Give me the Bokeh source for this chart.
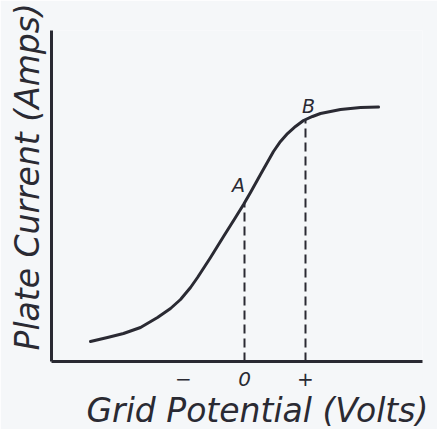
from bokeh.plotting import figure
from bokeh.models import Label, FixedTicker, Title
from bokeh.embed import file_html
from bokeh.resources import INLINE

# Grid potential (arbitrary units: 0 = zero bias, +1 = point B), plate current (arbitrary units)
grid_potential = [-2.525, -2.246, -1.984, -1.705, -1.426, -1.213, -1.049, -0.885, -0.770, -0.557,
                  -0.344, -0.148, -0.016, 0.098, 0.262, 0.475, 0.590, 0.705, 0.836, 0.967,
                  1.115, 1.246, 1.574, 1.902, 2.197]
plate_current = [0.604, 0.725, 0.846, 1.027, 1.329, 1.601, 1.873, 2.236, 2.538, 3.142,
                 3.776, 4.350, 4.743, 5.106, 5.650, 6.344, 6.647, 6.888, 7.100, 7.281,
                 7.402, 7.492, 7.613, 7.674, 7.689]

point_names = ["A", "B"]
point_x = [0.0, 1.0]
point_y = [4.80, 7.30]

tick_values = [-1, 0, 1]
tick_labels = ["\u2212", "0", "+"]

x_title = "Grid Potential (Volts)"
y_title = "Plate Current (Amps)"

INK = "#2a2a33"
BG = "#f5f7f9"
FONT = "DejaVu Sans"

p = figure(width=437, height=429, output_backend="svg", toolbar_location=None,
           x_range=(-3.164, 2.918), y_range=(0, 10.0),
           min_border_left=51, min_border_right=15, min_border_top=30, min_border_bottom=68)
p.background_fill_color = BG
p.border_fill_color = BG
p.outline_line_color = None
p.grid.grid_line_color = None

p.xaxis.ticker = FixedTicker(ticks=tick_values)
p.xaxis.major_label_overrides = {v: l for v, l in zip(tick_values, tick_labels)}
p.xaxis.major_tick_line_color = None
p.xaxis.minor_tick_line_color = None
p.xaxis.major_label_text_font = FONT
p.xaxis.major_label_text_font_style = "italic"
p.xaxis.major_label_text_font_size = "20px"
p.xaxis.major_label_text_color = INK
p.xaxis.major_label_standoff = 4
p.xaxis.axis_line_width = 3
p.xaxis.axis_line_color = INK

p.yaxis.ticker = FixedTicker(ticks=[])
p.yaxis.major_tick_line_color = None
p.yaxis.minor_tick_line_color = None
p.yaxis.major_tick_out = 0
p.yaxis.minor_tick_out = 0
p.yaxis.major_label_standoff = 0
p.yaxis.major_label_text_font_size = "0px"
p.yaxis.axis_line_width = 3
p.yaxis.axis_line_color = INK

# dashed projections from A and B down to the axis
p.segment(x0=point_x, y0=[0, 0], x1=point_x, y1=point_y,
          line_color=INK, line_width=2, line_dash="9 5")

p.line(grid_potential, plate_current, line_color=INK, line_width=3,
       line_join="round", line_cap="round")

for name, x, y, dx, dy in zip(point_names, point_x, point_y, [-0.10, 0.05], [0.52, 0.43]):
    p.add_layout(Label(x=x + dx, y=y + dy, text=name, text_font=FONT,
                       text_font_style="italic", text_font_size="19px",
                       text_color=INK, text_align="center", text_baseline="middle"))

p.add_layout(Title(text=x_title, align="left", offset=35, text_font=FONT,
                   text_font_style="italic", text_font_size="33px",
                   text_color=INK, standoff=0), "below")
p.add_layout(Title(text=y_title, align="left", offset=11, text_font=FONT,
                   text_font_style="italic", text_font_size="33px",
                   text_color=INK, standoff=10), "left")

open("out.html", "w").write(file_html(p, INLINE))
